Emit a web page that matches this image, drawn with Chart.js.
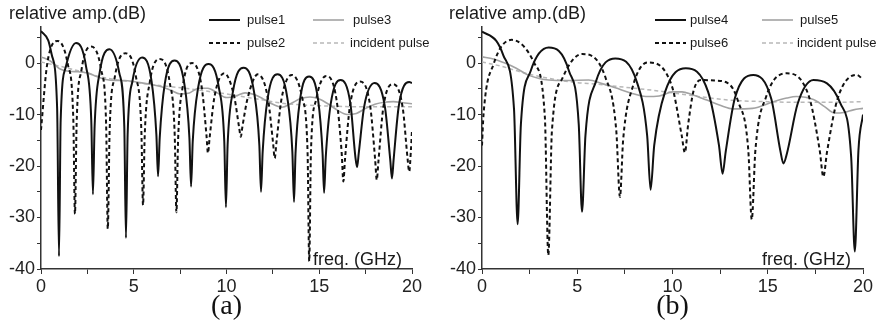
<!DOCTYPE html>
<html>
<head>
<meta charset="utf-8">
<script src="https://cdn.jsdelivr.net/npm/chart.js@4.4.1/dist/chart.umd.min.js"></script>
<style>
  html, body { margin: 0; padding: 0; background: #fff; }
  #wrap { position: relative; width: 883px; height: 326px; }
  .panel { position: absolute; top: 0; height: 326px; }
  #panelA { left: 0; width: 441px; }
  #panelB { left: 441px; width: 442px; }
</style>
</head>
<body>
<div id="wrap">
  <div class="panel" id="panelA"><canvas id="chartA"></canvas></div>
  <div class="panel" id="panelB"><canvas id="chartB"></canvas></div>
</div>
<script>
// values: frequency in GHz, relative amplitude in dB

// ---- panel (a) ----
var pulse1Freq = [0, 0.39, 0.58, 0.87, 0.97,
  1.06, 1.34, 1.89, 2.43, 2.71, 2.80,
  2.89, 3.16, 3.69, 4.22, 4.49, 4.58,
  4.67, 4.93, 5.45, 5.96, 6.22, 6.31,
  6.40, 6.67, 7.20, 7.73, 8.00, 8.09,
  8.18, 8.47, 9.03, 9.59, 9.88, 9.97,
  10.06, 10.35, 10.92, 11.48, 11.77, 11.86,
  11.95, 12.22, 12.75, 13.28, 13.55, 13.64,
  13.72, 13.96, 14.45, 14.94, 15.18, 15.26,
  15.35, 15.62, 16.15, 16.68, 16.95, 17.04,
  17.13, 17.42, 17.98, 18.54, 18.83, 18.92,
  19.01, 19.29, 19.85, 20];
var pulse1Db = [6.2, 4.4, 1.6, -8.8, -37.5,
  -11.1, -0.7, 3.9, -0.7, -11.1, -25.5,
  -12.3, -1.9, 2.7, -1.9, -12.3, -34,
  -13.9, -3.5, 1.1, -3.5, -13.9, -22,
  -14.5, -4.1, 0.5, -4.1, -14.5, -24,
  -15.2, -4.8, -0.2, -4.8, -15.2, -28,
  -15.9, -5.5, -0.9, -5.5, -15.9, -25,
  -17.2, -6.8, -2.2, -6.8, -17.2, -27,
  -17.6, -7.2, -2.6, -7.2, -17.6, -25.2,
  -18.3, -7.9, -3.3, -7.9, -18.3, -20.2,
  -17.5, -8.5, -3.9, -8.5, -18.9, -22.4,
  -18.7, -8.3, -3.7, -3.9];

var pulse2Freq = [0, 0.33, 0.9, 1.45, 1.74, 1.83,
  1.92, 2.18, 2.70, 3.25, 3.51, 3.6,
  3.70, 3.98, 4.55, 5.12, 5.41, 5.5,
  5.59, 5.86, 6.40, 6.94, 7.21, 7.3,
  7.39, 7.64, 8.15, 8.66, 8.92, 9.0,
  9.09, 9.35, 9.88, 10.42, 10.68, 10.77,
  10.86, 11.14, 11.69, 12.23, 12.51, 12.6,
  12.69, 12.97, 13.53, 14.09, 14.37, 14.46,
  14.55, 14.83, 15.38, 15.93, 16.21, 16.3,
  16.39, 16.66, 17.2, 17.74, 18.01, 18.1,
  18.19, 18.45, 18.98, 19.5, 19.76, 19.85,
  19.94, 20];
var pulse2Db = [-13, -0.3, 4.3, -0.3, -10.7, -29.3,
  -11.8, -1.4, 3.2, -1.4, -11.8, -32.2,
  -13.1, -2.7, 1.9, -2.7, -13.1, -27.6,
  -14.2, -3.8, 0.8, -3.8, -14.2, -29,
  -15, -4.6, 0, -4.6, -14, -17.5,
  -14.5, -6.6, -2.0, -6.6, -12.5, -14.3,
  -12.3, -6.8, -2.2, -6.8, -15.5, -18.5,
  -15.5, -6.9, -2.3, -6.9, -17.3, -38.5,
  -17.5, -7.1, -2.5, -7.1, -17.5, -23,
  -18.6, -8.2, -3.6, -8.2, -18.6, -22.7,
  -19.1, -8.7, -4.1, -8.7, -18.5, -21.1,
  -17, -13];

var pulse3Freq = [0, 0.5, 1, 1.5, 2, 2.5, 3, 3.5, 4, 4.5, 5, 5.5, 6, 6.5, 7, 7.5, 8, 8.5, 9, 9.5,
  10, 10.5, 11, 11.5, 12, 12.5, 13, 13.5, 14, 14.5, 15, 15.5, 16, 16.5, 17, 17.5, 18, 18.5, 19, 19.5, 20];
var pulse3Db = [1.2, 0.4, -1.1, -1.6, -1.7, -1.9, -2.6, -3.2, -3.4, -3.4, -3.6, -3.9, -4.2, -4.6, -5.3, -6.0, -5.8, -4.9, -4.9, -5.8,
  -6.7, -6.4, -5.8, -6.1, -7.0, -8.0, -8.6, -7.8, -6.9, -6.6, -7.0, -8.0, -9.2, -10.0, -9.8, -8.8, -8.0, -7.6, -7.5, -7.7, -7.9];

var incidentAFreq = [0, 1, 2, 3, 4, 5, 6, 7, 8, 9, 10, 11, 12, 13, 14, 15, 16, 17, 18, 19, 20];
var incidentADb = [0.2, -0.6, -1.5, -2.5, -3.2, -3.7, -4.2, -4.6, -5.0, -5.5, -6.0, -6.6, -7.2, -7.8, -8.1, -8.3, -8.4, -8.5, -8.5, -8.5, -8.5];

// ---- panel (b) ----
var pulse4Freq = [0, 0.75, 1.12, 1.68, 1.87,
  2.04, 2.55, 3.5, 4.57, 5.08, 5.25,
  5.43, 5.97, 7.0, 8.13, 8.67, 8.85,
  9.04, 9.61, 10.7, 11.87, 12.44, 12.63,
  12.79, 13.27, 14.24, 15.18, 15.66, 15.82,
  16.01, 16.57, 17.4, 18.82, 19.38, 19.57,
  19.76, 20];
var pulse4Db = [6.1, 4.3, 1.5, -8.9, -31.3,
  -12, -1.6, 3.0, -1.6, -12, -28.9,
  -14.1, -3.7, 0.9, -3.7, -14.1, -24.6,
  -16, -5.6, -1.0, -5.6, -16, -21.5,
  -17.3, -6.9, -2.3, -6.9, -17, -19.5,
  -17.5, -7.9, -3.3, -7.9, -18.3, -36.6,
  -17, -10];

var pulse6Freq = [0, 0.08, 0.62, 1.56, 2.76, 3.30, 3.48,
  3.67, 4.23, 5.25, 6.49, 7.05, 7.24,
  7.41, 7.92, 8.7, 9.97, 10.48, 10.65,
  10.82, 11.1, 11.5, 12.2, 12.9, 13.45, 13.98, 14.16,
  14.35, 14.91, 16.0, 17.17, 17.73, 17.92,
  18.11, 18.67, 19.67, 20];
var pulse6Db = [-16, -10, -0.1, 4.5, -0.1, -10.5, -37.3,
  -13.2, -2.9, 1.75, -2.9, -13.2, -26,
  -14.9, -4.5, 0.1, -4.5, -14, -17.4,
  -12, -5.5, -3.3, -3.4, -3.9, -7.5, -17, -30.4,
  -17, -6.6, -2.0, -6.6, -17, -22.1,
  -17.3, -6.9, -2.3, -3.2];

var pulse5Freq = [0, 0.6, 1.2, 1.8, 2.4, 3.0, 3.5, 4.5, 5.6, 6.3, 7.0, 7.8, 8.6, 9.3, 10.0,
  10.5, 11.0, 11.8, 12.5, 13.2, 14.2, 15.3, 16.0, 16.5, 17.4, 18.0, 18.5, 19.0, 19.5, 20];
var pulse5Db = [1.2, 0.8, 0, -1.0, -2.3, -3.0, -3.3, -3.4, -3.3, -4.0, -4.8, -5.8, -6.5, -6.4, -5.6,
  -5.6, -6.1, -7.2, -8.2, -8.9, -8.8, -7.5, -6.8, -6.5, -7.1, -8.5, -9.7, -9.6, -9.1, -8.8];

var incidentBFreq = [0, 1, 2, 3, 4, 5, 6, 7, 8, 9, 10, 11, 12, 13, 14, 15, 16, 17, 18, 19, 20];
var incidentBDb = [0.2, -0.6, -1.7, -2.6, -3.3, -3.8, -4.1, -4.5, -4.9, -5.3, -5.8, -6.3, -6.8, -7.2, -7.4, -7.5, -7.6, -7.6, -7.6, -7.6, -7.5];

var xTicks = [0, 5, 10, 15, 20];
var yTicks = [-40, -30, -20, -10, 0];

var SANS = "'Liberation Sans', Arial, Helvetica, sans-serif";
var SERIF = "'Liberation Serif', 'Times New Roman', serif";
var BLACK = '#111';
var GRAY = '#a3a3a3';
var LIGHTGRAY = '#b8b8b8';

function pts(freq, db){
    var out = [];
    for(var i = 0; i < freq.length; i++) out.push({x: freq[i], y: db[i]});
    return out;
}

function line(label, freq, db, color, width, dash){
    return {
        label: label,
        data: pts(freq, db),
        borderColor: color,
        borderWidth: width,
        borderDash: dash,
        pointRadius: 0,
        fill: false,
        cubicInterpolationMode: 'monotone'
    };
}

// draws the axis captions and the two-column legend
function panelText(cfg){
    return {
        id: 'panelText',
        afterDraw: function(chart){
            var ctx = chart.ctx;
            ctx.save();
            ctx.fillStyle = '#1a1a1a';
            ctx.font = '18px ' + SANS;
            ctx.textBaseline = 'alphabetic';
            ctx.fillText('relative amp.(dB)', cfg.yTitle[0], cfg.yTitle[1]);
            ctx.fillText('freq. (GHz)', cfg.xTitle[0], cfg.xTitle[1]);

            ctx.font = '13px ' + SANS;
            ctx.textBaseline = 'middle';
            chart.data.datasets.forEach(function(ds, i){
                var p = cfg.legend[i];
                ctx.strokeStyle = ds.borderColor;
                ctx.lineWidth = ds.borderWidth;
                ctx.setLineDash(ds.borderDash || []);
                ctx.beginPath();
                ctx.moveTo(p[0], p[2]);
                ctx.lineTo(p[0] + 31, p[2]);
                ctx.stroke();
                ctx.setLineDash([]);
                ctx.fillText(ds.label, p[1], p[2]);
            });
            ctx.restore();
        }
    };
}

function makeChart(canvasId, datasets, panelLabel, rightPad, text){
    return new Chart(document.getElementById(canvasId).getContext('2d'), {
        type: 'line',
        data: { datasets: datasets },
        options: {
            responsive: true,
            maintainAspectRatio: false,
            animation: false,
            layout: { padding: { left: 0, right: rightPad, top: 27, bottom: 0 } },
            plugins: {
                legend: { display: false },
                tooltip: { enabled: false }
            },
            scales: {
                x: {
                    type: 'linear',
                    min: 0,
                    max: 20,
                    afterFit: function(scale){ scale.height = 57; },
                    border: { display: true, color: '#333', width: 1.5 },
                    grid: { display: true, drawOnChartArea: false, drawTicks: true, tickLength: 5, color: '#333' },
                    ticks: {
                        stepSize: 2.5,
                        autoSkip: false,
                        maxRotation: 0,
                        padding: 2,
                        color: '#222',
                        font: { family: SANS, size: 18 },
                        callback: function(v){ return xTicks.indexOf(v) >= 0 ? String(v) : ''; }
                    },
                    title: {
                        display: true,
                        text: panelLabel,
                        color: '#111',
                        font: { family: SERIF, size: 28, lineHeight: 1.2 },
                        padding: { top: 0, bottom: 3 }
                    }
                },
                y: {
                    type: 'linear',
                    min: -40,
                    max: 7,
                    afterFit: function(scale){ scale.width = 41; },
                    border: { display: true, color: '#333', width: 1.5 },
                    grid: { display: true, drawOnChartArea: false, drawTicks: true, tickLength: 4, color: '#333' },
                    ticks: {
                        stepSize: 5,
                        includeBounds: false,
                        autoSkip: false,
                        padding: 2,
                        color: '#222',
                        font: { family: SANS, size: 18 },
                        callback: function(v){ return yTicks.indexOf(v) >= 0 ? String(v) : ''; }
                    }
                }
            }
        },
        plugins: [panelText(text)]
    });
}

var chartA = makeChart('chartA', [
    line('pulse1', pulse1Freq, pulse1Db, BLACK, 2, []),
    line('pulse2', pulse2Freq, pulse2Db, BLACK, 2, [4, 3]),
    line('pulse3', pulse3Freq, pulse3Db, GRAY, 1.6, []),
    line('incident pulse', incidentAFreq, incidentADb, LIGHTGRAY, 1.5, [4, 3])
], '(a)', 29, {
    yTitle: [9, 19],
    xTitle: [313, 265],
    legend: [[209, 247, 20], [209, 247, 43], [313, 353, 20], [313, 350, 43]]
});

var chartB = makeChart('chartB', [
    line('pulse4', pulse4Freq, pulse4Db, BLACK, 2, []),
    line('pulse6', pulse6Freq, pulse6Db, BLACK, 2, [4, 3]),
    line('pulse5', pulse5Freq, pulse5Db, GRAY, 1.6, []),
    line('incident pulse', incidentBFreq, incidentBDb, LIGHTGRAY, 1.5, [4, 3])
], '(b)', 20, {
    yTitle: [8, 19],
    xTitle: [321, 265],
    legend: [[214, 249, 20], [214, 249, 43], [321, 359, 20], [321, 356, 43]]
});
</script>
</body>
</html>
